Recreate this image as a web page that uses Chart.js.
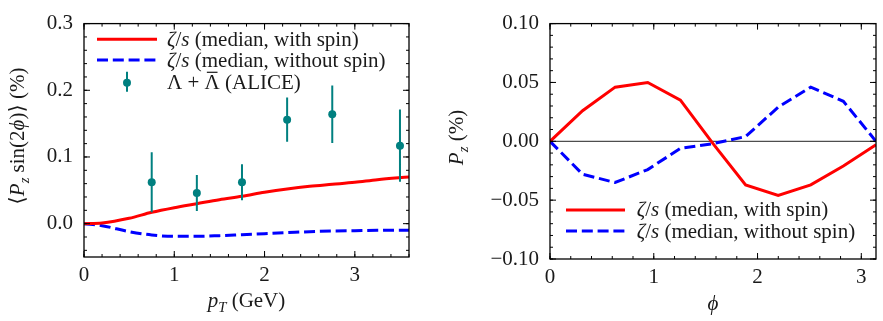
<!DOCTYPE html>
<html>
<head>
<meta charset="utf-8">
<script src="https://cdn.jsdelivr.net/npm/chart.js@4.4.0/dist/chart.umd.min.js"></script>
<style>
body { margin:0; background:#fff; }
#wrap { position:relative; width:883px; height:321px; }
#c1 { position:absolute; left:0; top:0; }
#c2 { position:absolute; left:440px; top:0; }
</style>
</head>
<body>
<div id="wrap">
<canvas id="c1" width="440" height="321"></canvas>
<canvas id="c2" width="443" height="321"></canvas>
</div>
<script>
// ---- left panel : <Pz sin(2phi)> vs pT ----
var ptGrid     = [0, 0.2, 0.5, 0.75, 1, 1.25, 1.5, 1.75, 2, 2.25, 2.5, 2.75, 3, 3.25, 3.6];
var withSpinPt = [0, 0.001, 0.008, 0.017, 0.024, 0.030, 0.036, 0.041, 0.047, 0.052, 0.056, 0.059, 0.062, 0.066, 0.070];
var noSpinPt   = [0, -0.003, -0.012, -0.017, -0.019, -0.019, -0.018, -0.0165, -0.015, -0.0135, -0.012, -0.011, -0.0105, -0.010, -0.0097];
var aliceX   = [0.75, 1.25, 1.75, 2.25, 2.75, 3.5];
var aliceY   = [0.062, 0.046, 0.062, 0.156, 0.164, 0.117];
var aliceErr = [0.045, 0.027, 0.027, 0.033, 0.043, 0.054];
var ptTicks  = [0, 1, 2, 3];
var leftYTicks = [0, 0.1, 0.2, 0.3];

// ---- right panel : Pz vs phi ----
var phiGrid     = [0, 0.314, 0.628, 0.942, 1.257, 1.571, 1.885, 2.199, 2.513, 2.827, 3.1416];
var withSpinPhi = [0, 0.026, 0.046, 0.050, 0.035, -0.002, -0.037, -0.046, -0.037, -0.021, -0.003];
var noSpinPhi   = [0, -0.028, -0.035, -0.024, -0.006, -0.002, 0.004, 0.029, 0.046, 0.034, 0];
var phiTicks    = [0, 1, 2, 3];
var rightYTicks = [-0.10, -0.05, 0, 0.05, 0.10];

var SERIF = "Liberation Serif, DejaVu Serif, serif";
var RED = '#ff0000', BLUE = '#0000ff', TEAL = '#008080';
var TXT = '#1a1a1a';

Chart.defaults.font.family = SERIF;

function fontFor(style, size) {
    var s = style.indexOf('sub') >= 0 ? size * 0.7 : size;
    var it = style.indexOf('i') >= 0 ? 'italic ' : '';
    return it + s + 'px ' + SERIF;
}
function drawRich(ctx, parts, x, y, size, align) {
    var w = 0;
    parts.forEach(function(p){ ctx.font = fontFor(p[1], size); w += ctx.measureText(p[0]).width; });
    var cx = align === 'center' ? x - w / 2 : x;
    ctx.textAlign = 'left';
    ctx.textBaseline = 'alphabetic';
    parts.forEach(function(p){
        ctx.font = fontFor(p[1], size);
        var dy = p[1].indexOf('sub') >= 0 ? size * 0.22 : 0;
        var tw = ctx.measureText(p[0]).width;
        ctx.fillText(p[0], cx, y + dy);
        if (p[1] === 'bar') {
            ctx.fillRect(cx + tw * 0.15, y - size * 0.8, tw * 0.7, 1.2);
        }
        cx += tw;
    });
}
function minus(s) { return s.replace('-', '\u2212'); }

// frame + inward ticks on all four sides
var framePlugin = {
    id: 'frame',
    beforeDatasetsDraw: function(chart, args, o) {
        if (!o.zeroLine) return;
        var c = chart.ctx, a = chart.chartArea, y0 = chart.scales.y.getPixelForValue(0);
        c.save();
        c.strokeStyle = '#222'; c.lineWidth = 1;
        c.beginPath(); c.moveTo(a.left, y0); c.lineTo(a.right, y0); c.stroke();
        c.restore();
    },
    afterDatasetsDraw: function(chart, args, o) {
        var c = chart.ctx, a = chart.chartArea, xs = chart.scales.x, ys = chart.scales.y;
        c.save();
        c.strokeStyle = '#000';
        c.lineWidth = 1;
        c.beginPath();
        var v, p;
        for (v = xs.min; v <= xs.max + 1e-9; v += o.xMinor) {
            p = xs.getPixelForValue(v);
            c.moveTo(p, a.bottom); c.lineTo(p, a.bottom - 3);
            c.moveTo(p, a.top); c.lineTo(p, a.top + 3);
        }
        for (v = o.yMinorStart; v <= ys.max + 1e-9; v += o.yMinor) {
            p = ys.getPixelForValue(v);
            c.moveTo(a.left, p); c.lineTo(a.left + 3, p);
            c.moveTo(a.right, p); c.lineTo(a.right - 3, p);
        }
        xs.ticks.forEach(function(t){
            p = xs.getPixelForValue(t.value);
            c.moveTo(p, a.bottom); c.lineTo(p, a.bottom - 6);
            c.moveTo(p, a.top); c.lineTo(p, a.top + 6);
        });
        ys.ticks.forEach(function(t){
            p = ys.getPixelForValue(t.value);
            c.moveTo(a.left, p); c.lineTo(a.left + 6, p);
            c.moveTo(a.right, p); c.lineTo(a.right - 6, p);
        });
        c.stroke();
        c.lineWidth = 1.3;
        c.strokeRect(a.left, a.top, a.right - a.left, a.bottom - a.top);
        c.restore();
    }
};

// vertical error bars for the data points
var errPlugin = {
    id: 'errbars',
    beforeDatasetDraw: function(chart, args) {
        var ds = chart.data.datasets[args.index];
        if (!ds.errors) return;
        var c = chart.ctx, xs = chart.scales.x, ys = chart.scales.y;
        c.save();
        c.strokeStyle = ds.backgroundColor;
        c.lineWidth = 2;
        c.beginPath();
        ds.data.forEach(function(d, i){
            var px = xs.getPixelForValue(d.x);
            c.moveTo(px, ys.getPixelForValue(d.y - ds.errors[i]));
            c.lineTo(px, ys.getPixelForValue(d.y + ds.errors[i]));
        });
        c.stroke();
        c.restore();
    }
};

// axis titles and legend drawn inside the plot
var textPlugin = {
    id: 'texts',
    afterDraw: function(chart, args, o) {
        var c = chart.ctx;
        c.save();
        c.fillStyle = TXT;
        drawRich(c, o.xTitle.parts, o.xTitle.x, o.xTitle.y, 21, 'center');
        c.save();
        c.translate(o.yTitle.x, o.yTitle.y);
        c.rotate(-Math.PI / 2);
        drawRich(c, o.yTitle.parts, 0, 7, 21, 'center');
        c.restore();
        o.legend.items.forEach(function(it){
            c.save();
            if (it.kind === 'line') {
                c.strokeStyle = it.color; c.lineWidth = 3;
                c.setLineDash(it.dash || []);
                c.beginPath(); c.moveTo(o.legend.x0, it.y); c.lineTo(o.legend.x1, it.y); c.stroke();
            } else {
                var mx = (o.legend.x0 + o.legend.x1) / 2;
                c.strokeStyle = TEAL; c.fillStyle = TEAL; c.lineWidth = 2;
                c.beginPath(); c.moveTo(mx, it.y - 11); c.lineTo(mx, it.y + 9); c.stroke();
                c.beginPath(); c.arc(mx, it.y, 4, 0, Math.PI * 2); c.fill();
            }
            c.restore();
            c.fillStyle = TXT;
            drawRich(c, it.parts, o.legend.tx, it.base, 21, 'left');
        });
        c.restore();
    }
};

var zetaWith = [['\u03B6', 'i'], ['/', 'r'], ['s', 'i'], [' (median, with spin)', 'r']];
var zetaWithout = [['\u03B6', 'i'], ['/', 'r'], ['s', 'i'], [' (median, without spin)', 'r']];

function xy(xs, ys) { return xs.map(function(x, i){ return {x: x, y: ys[i]}; }); }

function axis(min, max, list, fmt, pad) {
    return {
        type: 'linear', min: min, max: max,
        afterBuildTicks: function(s){ s.ticks = list.map(function(v){ return {value: v}; }); },
        ticks: { font: {family: SERIF, size: 21}, color: TXT, padding: pad, callback: fmt },
        grid: { display: false, drawTicks: false },
        border: { display: false }
    };
}

new Chart(document.getElementById('c1'), {
    type: 'line',
    data: {
        datasets: [
            { type: 'scatter', data: xy(aliceX, aliceY), errors: aliceErr,
              backgroundColor: TEAL, borderColor: TEAL, pointRadius: 4, borderWidth: 0 },
            { data: xy(ptGrid, withSpinPt), borderColor: RED, borderWidth: 3, pointRadius: 0,
              cubicInterpolationMode: 'monotone' },
            { data: xy(ptGrid, noSpinPt), borderColor: BLUE, borderWidth: 3, pointRadius: 0,
              borderDash: [11, 4.8], cubicInterpolationMode: 'monotone' }
        ]
    },
    options: {
        responsive: false, animation: false,
        layout: { padding: { top: 15, right: 31, left: 0, bottom: 0 } },
        scales: {
            x: Object.assign(axis(0, 3.6, ptTicks, function(v){ return String(v); }, 6),
                { afterFit: function(s){ s.height = 64; } }),
            y: Object.assign(axis(-0.05, 0.3, leftYTicks, function(v){ return minus(v.toFixed(1)); }, 11),
                { afterFit: function(s){ s.width = 84; } })
        },
        plugins: {
            legend: { display: false }, tooltip: { enabled: false },
            frame: { xMinor: 0.2, yMinor: 0.02, yMinorStart: -0.04 },
            texts: {
                xTitle: { parts: [['p', 'i'], ['T', 'subi'], [' (GeV)', 'r']], x: 246.5, y: 307 },
                yTitle: { parts: [['\u27E8', 'r'], ['P', 'i'], ['z', 'subi'], [' sin(2', 'r'], ['\u03D5', 'i'], [')\u27E9 (%)', 'r']], x: 17, y: 136 },
                legend: { x0: 97, x1: 157, tx: 167, items: [
                    { kind: 'line', color: RED, y: 39.3, base: 46, parts: zetaWith },
                    { kind: 'line', color: BLUE, dash: [11, 4.8], y: 60, base: 67, parts: zetaWithout },
                    { kind: 'pt', y: 82.7, base: 88.5, parts: [['\u039B + ', 'r'], ['\u039B', 'bar'], [' (ALICE)', 'r']] }
                ] }
            }
        }
    },
    plugins: [framePlugin, errPlugin, textPlugin]
});

new Chart(document.getElementById('c2'), {
    type: 'line',
    data: {
        datasets: [
            { data: xy(phiGrid, withSpinPhi), borderColor: RED, borderWidth: 3, pointRadius: 0, tension: 0 },
            { data: xy(phiGrid, noSpinPhi), borderColor: BLUE, borderWidth: 3, pointRadius: 0, tension: 0,
              borderDash: [11, 4.8] }
        ]
    },
    options: {
        responsive: false, animation: false,
        layout: { padding: { top: 16, right: 7, left: 0, bottom: 0 } },
        scales: {
            x: Object.assign(axis(0, Math.PI, phiTicks, function(v){ return String(v); }, 6),
                { afterFit: function(s){ s.height = 62; } }),
            y: Object.assign(axis(-0.1, 0.1, rightYTicks, function(v){ return minus(v.toFixed(2)); }, 11),
                { afterFit: function(s){ s.width = 110; } })
        },
        plugins: {
            legend: { display: false }, tooltip: { enabled: false },
            frame: { xMinor: 0.2, yMinor: 0.01, yMinorStart: -0.1, zeroLine: true },
            texts: {
                xTitle: { parts: [['\u03D5', 'i']], x: 273, y: 310 },
                yTitle: { parts: [['P', 'i'], ['z', 'subi'], [' (%)', 'r']], x: 16, y: 137.5 },
                legend: { x0: 126, x1: 185, tx: 196.7, items: [
                    { kind: 'line', color: RED, y: 210, base: 216, parts: zetaWith },
                    { kind: 'line', color: BLUE, dash: [11, 4.8], y: 231, base: 237.5, parts: zetaWithout }
                ] }
            }
        }
    },
    plugins: [framePlugin, textPlugin]
});
</script>
</body>
</html>
